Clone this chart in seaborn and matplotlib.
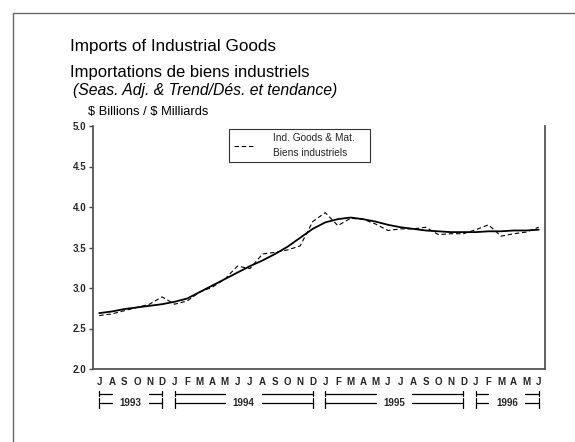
import numpy as np
import pandas as pd
import matplotlib
matplotlib.use("Agg")
import matplotlib.pyplot as plt
import matplotlib.transforms as mtransforms
from matplotlib.patches import Rectangle
import seaborn as sns

# ---------------- data ----------------
months = ["J", "A", "S", "O", "N", "D",
          "J", "F", "M", "A", "M", "J", "J", "A", "S", "O", "N", "D",
          "J", "F", "M", "A", "M", "J", "J", "A", "S", "O", "N", "D",
          "J", "F", "M", "A", "M", "J"]
seas_adj = [2.66, 2.68, 2.72, 2.76, 2.80, 2.89,
            2.80, 2.84, 2.95, 3.01, 3.11, 3.27, 3.24, 3.42, 3.44, 3.47, 3.52, 3.82,
            3.93, 3.77, 3.86, 3.85, 3.79, 3.71, 3.73, 3.73, 3.75, 3.66, 3.67, 3.67,
            3.72, 3.78, 3.64, 3.67, 3.69, 3.75]
trend = [2.69, 2.71, 2.74, 2.76, 2.78, 2.80,
         2.83, 2.87, 2.95, 3.03, 3.11, 3.19, 3.27, 3.34, 3.42, 3.51, 3.62, 3.73,
         3.81, 3.85, 3.87, 3.85, 3.82, 3.78, 3.75, 3.73, 3.71, 3.70, 3.69, 3.69,
         3.69, 3.70, 3.70, 3.71, 3.71, 3.72]
years = ["1993", "1994", "1995", "1996"]
year_spans = [(0, 5), (6, 17), (18, 29), (30, 35)]
yticks = [2.0, 2.5, 3.0, 3.5, 4.0, 4.5, 5.0]
legend_label = "Ind. Goods & Mat.\nBiens industriels"

df = pd.DataFrame({"t": np.arange(len(months)), "seas": seas_adj, "trend": trend})

# ---------------- style ----------------
sns.set_theme(style="white")
plt.rcParams["font.family"] = ["Liberation Sans", "DejaVu Sans"]

fig = plt.figure(figsize=(5.75, 4.42), dpi=100)
W, H = 575, 442

# outer frame
fig.patches.append(Rectangle((13 / W, -0.2), 1.5, 1.2 - 13 / H,
                             transform=fig.transFigure, fill=False,
                             edgecolor="#666666", lw=1.0))

ax = fig.add_axes([93 / W, 1 - 369 / H, (545 - 93) / W, (369 - 126) / H])

sns.lineplot(data=df, x="t", y="seas", ax=ax, color="black", lw=0.8,
             linestyle=(0, (4, 2.5)), label=legend_label)
sns.lineplot(data=df, x="t", y="trend", ax=ax, color="black", lw=1.3,
             label="_nolegend_")

ax.set_xlim(-0.5, len(months) - 0.5)
ax.set_ylim(2.0, 5.0)
ax.set_yticks(yticks)
ax.set_yticklabels([f"{v:.1f}" for v in yticks], fontsize=7, fontweight="bold")
ax.set_xticks(np.arange(len(months)))
ax.set_xticklabels(months, fontsize=7, fontweight="bold")
ax.set_xlabel("")
ax.set_ylabel("")
ax.tick_params(axis="y", length=3, width=1, color="#444444", pad=2, direction="out", left=True)
ax.tick_params(axis="x", length=0, pad=6)

for s in ["left", "bottom", "right", "top"]:
    ax.spines[s].set_color("#555555")
    ax.spines[s].set_linewidth(1.3)
ax.spines["top"].set_visible(False)

# legend
leg = ax.legend(loc="upper left",
                bbox_to_anchor=((229 - 93) / 452, (369 - 131) / 243, (370 - 229) / 452, 0.01),
                mode="expand", fontsize=7.3, frameon=True, fancybox=False,
                edgecolor="black", handlelength=2.0, handletextpad=1.9,
                borderpad=0.45, borderaxespad=0, labelspacing=0.2)
leg.get_frame().set_linewidth(0.8)
for t in leg.get_texts():
    t.set_linespacing(1.6)
for line in leg.get_lines():
    line.set_linewidth(0.8)

# year brackets below the month letters
trans = mtransforms.blended_transform_factory(ax.transData, ax.transAxes)
y_top = (369 - 393.5) / 243
y_top0 = (369 - 391) / 243
y_top1 = (369 - 396) / 243
y_mid = (369 - 403) / 243
y_end0 = (369 - 398) / 243
y_end1 = (369 - 408) / 243
for yr, (a, b) in zip(years, year_spans):
    ax.plot([a, b], [y_top, y_top], transform=trans, color="black", lw=0.9, clip_on=False)
    ax.plot([a, b], [y_mid, y_mid], transform=trans, color="black", lw=0.9, clip_on=False)
    for xe in (a, b):
        ax.plot([xe, xe], [y_top0, y_top1], transform=trans, color="black", lw=0.9, clip_on=False)
        ax.plot([xe, xe], [y_end0, y_end1], transform=trans, color="black", lw=0.9, clip_on=False)
    ax.text((a + b) / 2, y_mid, yr, transform=trans, ha="center", va="center",
            fontsize=7, fontweight="bold",
            bbox=dict(facecolor="white", edgecolor="none", pad=5))

# titles
fig.text(70 / W, 1 - 47 / H, "Imports of Industrial Goods", fontsize=12.3,
         ha="left", va="center", color="black")
fig.text(70 / W, 1 - 72 / H, "Importations de biens industriels", fontsize=12.0,
         ha="left", va="center", color="black")
fig.text(73 / W, 1 - 90 / H, "(Seas. Adj. & Trend/Dés. et tendance)", fontsize=11.3,
         style="italic", ha="left", va="center", color="black")
fig.text(88 / W, 1 - 112 / H, "\\$ Billions / \\$ Milliards", fontsize=9.3,
         ha="left", va="center", color="black")

fig.savefig("out.png", dpi=100)
